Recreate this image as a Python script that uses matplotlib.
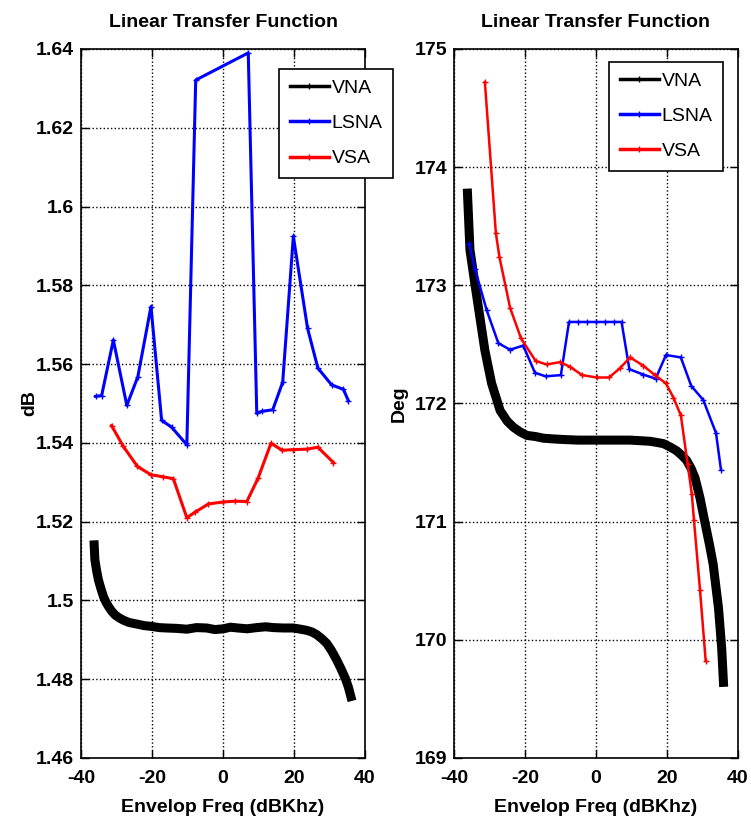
import numpy as np
import matplotlib.pyplot as plt

plt.rcParams['font.family'] = ['Liberation Sans Narrow', 'DejaVu Sans Condensed', 'Liberation Sans', 'DejaVu Sans']
plt.rcParams['font.weight'] = 'bold'
plt.rcParams['font.size'] = 14
plt.rcParams['axes.unicode_minus'] = False

# --- magnitude (dB) ---
mag_vna_x = [-36.3, -36.1, -35.6, -35.1, -34.4, -33.7, -33.0, -32.3, -31.4, -30.4, -29.3, -28.1,
             -26.5, -24.3, -22.2, -20.1, -18.0, -15.9, -13.0, -10.2, -7.5, -4.6, -2.3, 0.1,
             2.1, 4.2, 6.8, 9.5, 12.0, 14.2, 17.0, 19.8, 21.8, 23.6, 25.0, 26.4, 27.8, 29.2,
             30.6, 32.0, 33.2, 34.4, 35.3, 36.0]
mag_vna_y = [1.5141, 1.5103, 1.5075, 1.5052, 1.5030, 1.5010, 1.4996, 1.4985, 1.4973, 1.4963, 1.4956, 1.4950,
             1.4944, 1.4940, 1.4936, 1.4934, 1.4931, 1.4930, 1.4929, 1.4927, 1.4931, 1.4930, 1.4926, 1.4928,
             1.4932, 1.4930, 1.4928, 1.4931, 1.4933, 1.4931, 1.4930, 1.4930, 1.4927, 1.4924, 1.4920, 1.4913, 1.4903, 1.4891,
             1.4872, 1.4849, 1.4827, 1.4803, 1.4780, 1.4756]

mag_lsna_x = [-35.9, -34.2, -30.9, -27.1, -24.0, -20.3, -17.3, -14.5, -10.2, -7.7, 7.1, 9.5,
              10.9, 14.0, 16.8, 19.8, 23.8, 26.7, 30.6, 33.9, 35.3]
mag_lsna_y = [1.5518, 1.5520, 1.5661, 1.5495, 1.5568, 1.5746, 1.5457, 1.5440, 1.5395, 1.6321, 1.6390, 1.5475,
              1.5480, 1.5484, 1.5554, 1.5924, 1.5691, 1.5590, 1.5547, 1.5536, 1.5507]

mag_vsa_x = [-31.4, -28.1, -24.1, -20.3, -17.0, -14.0, -10.2, -7.9, -4.1, 0.1, 3.4, 6.7,
             9.9, 13.5, 16.7, 19.8, 23.6, 26.7, 31.1]
mag_vsa_y = [1.5444, 1.5391, 1.5340, 1.5319, 1.5314, 1.5309, 1.5210, 1.5224, 1.5245, 1.5250, 1.5252, 1.5251,
             1.5311, 1.5399, 1.5381, 1.5383, 1.5384, 1.5389, 1.5350]

# --- phase (Deg) ---
ph_vna_x = [-36.2, -35.5, -34.1, -32.7, -31.3, -29.4, -27.0, -25.0, -23.3, -21.4, -19.5, -17.0, -14.8,
            -12.0, -9.2, -5.0, 0.2, 5.0, 9.6, 12.5, 15.2, 17.2, 19.0, 21.0, 22.7, 24.2, 25.5, 26.8,
            27.9, 29.3, 30.7, 32.0, 33.0, 34.5, 35.4, 35.9]
ph_vna_y = [173.78, 173.30, 173.01, 172.73, 172.45, 172.17, 171.94, 171.85, 171.80, 171.76, 171.73, 171.72, 171.706,
            171.70, 171.695, 171.69, 171.69, 171.69, 171.69, 171.685, 171.68, 171.67, 171.66, 171.63, 171.60, 171.56, 171.52, 171.45,
            171.37, 171.20, 170.99, 170.80, 170.64, 170.27, 169.93, 169.64]

ph_lsna_x = [-35.7, -34.1, -30.8, -27.5, -24.2, -20.5, -17.2, -14.2, -9.9, -7.6, -5.0, -2.5, 0.0,
             2.5, 5.0, 7.2, 9.4, 13.3, 16.8, 19.7, 23.9, 26.8, 30.2, 33.8, 35.2]
ph_lsna_y = [173.35, 173.14, 172.79, 172.51, 172.455, 172.49, 172.26, 172.23, 172.24, 172.69, 172.69, 172.69, 172.69,
             172.69, 172.69, 172.69, 172.29, 172.245, 172.21, 172.41, 172.39, 172.15, 172.03, 171.75, 171.44]

ph_vsa_x = [-31.3, -28.2, -27.2, -24.2, -21.1, -17.0, -13.9, -10.1, -7.3, -3.9, 0.2, 3.7,
            6.8, 9.6, 13.3, 16.6, 19.7, 21.8, 23.9, 25.8, 27.0, 27.6, 29.3, 30.9]
ph_vsa_y = [174.72, 173.44, 173.24, 172.81, 172.55, 172.36, 172.33, 172.35, 172.31, 172.24, 172.22, 172.22,
            172.30, 172.39, 172.32, 172.24, 172.17, 172.05, 171.90, 171.49, 171.23, 171.01, 170.42, 169.82]

fig = plt.figure(figsize=(7.51, 8.23), dpi=100)
ax1 = fig.add_axes([0.1079, 0.0790, 0.3782, 0.8615])
ax2 = fig.add_axes([0.6045, 0.0790, 0.3782, 0.8615])


def style(ax, ylabel, yticks, ylabels, ylabel_x):
    ax.set_xlim(-40, 40)
    ax.set_xticks([-40, -20, 0, 20, 40])
    ax.set_yticks(yticks)
    ax.set_yticklabels(ylabels)
    ax.set_ylim(yticks[0], yticks[-1])
    ax.grid(True, color='black', linestyle=':', linewidth=1.0)
    ax.tick_params(direction='in', top=True, right=True, length=6, width=1)
    ax.tick_params(axis='x', pad=9)
    ax.tick_params(axis='y', pad=5)
    for s in ax.spines.values():
        s.set_linewidth(1.2)
    ax.set_title('Linear Transfer Function', fontsize=14, fontweight='bold', pad=16)
    ax.set_xlabel('Envelop Freq (dBKhz)', fontsize=14, fontweight='bold', labelpad=8)
    ax.set_ylabel(ylabel, fontsize=14, fontweight='bold')
    ax.yaxis.set_label_coords(ylabel_x, 0.5)


ax1.plot(mag_vna_x, mag_vna_y, color='black', lw=6.5, marker='+', ms=5, label='VNA')
ax1.plot(mag_lsna_x, mag_lsna_y, color='blue', lw=2.2, marker='+', ms=5, label='LSNA')
ax1.plot(mag_vsa_x, mag_vsa_y, color='red', lw=2.2, marker='+', ms=5, label='VSA')
style(ax1, 'dB', [1.46, 1.48, 1.5, 1.52, 1.54, 1.56, 1.58, 1.6, 1.62, 1.64],
      ['1.46', '1.48', '1.5', '1.52', '1.54', '1.56', '1.58', '1.6', '1.62', '1.64'], -0.152)

ax2.plot(ph_vna_x, ph_vna_y, color='black', lw=6.5, marker='+', ms=5, label='VNA')
ax2.plot(ph_lsna_x, ph_lsna_y, color='blue', lw=1.8, marker='+', ms=5, label='LSNA')
ax2.plot(ph_vsa_x, ph_vsa_y, color='red', lw=1.8, marker='+', ms=5, label='VSA')
style(ax2, 'Deg', [169, 170, 171, 172, 173, 174, 175],
      ['169', '170', '171', '172', '173', '174', '175'], -0.162)

for ax, anchor in [(ax1, (0.697, 0.972)), (ax2, (0.546, 0.982))]:
    leg = ax.legend(loc='upper left', bbox_to_anchor=anchor, fancybox=False, framealpha=1,
                    edgecolor='black', handlelength=2.0, handletextpad=0.15,
                    labelspacing=0.9, borderpad=0.55, borderaxespad=0,
                    prop={'weight': 'normal', 'size': 14})
    leg.get_frame().set_linewidth(1.2)
    for h in leg.get_lines():
        h.set_linewidth(2.5)
        h.set_markersize(5)

fig.savefig('out.png', dpi=100)
